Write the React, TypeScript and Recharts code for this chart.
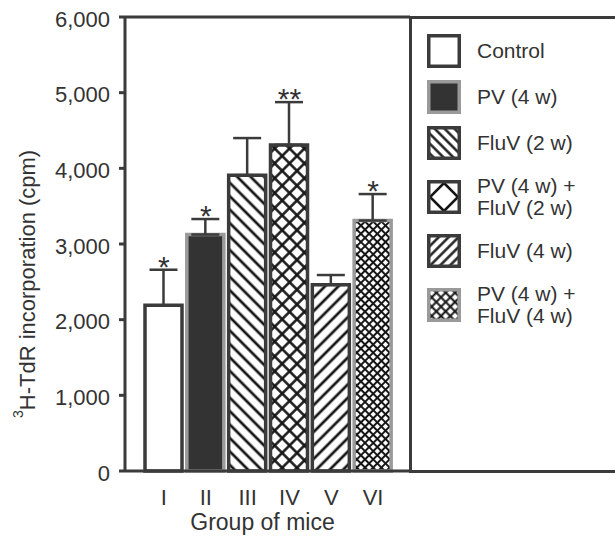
import { ComposedChart, Bar, Line, XAxis, YAxis, ErrorBar, Cell, LabelList, ReferenceLine } from "recharts"

const groups = ["I", "II", "III", "IV", "V", "VI"]
const treatments = [
  ["Control"],
  ["PV (4 w)"],
  ["FluV (2 w)"],
  ["PV (4 w) +", "FluV (2 w)"],
  ["FluV (4 w)"],
  ["PV (4 w) +", "FluV (4 w)"],
]
const means = [2190, 3125, 3910, 4310, 2460, 3310]
const errUp = [470, 205, 490, 565, 130, 350]
const marks = ["*", "*", "", "**", "", "*"]
const yTicks = [0, 1000, 2000, 3000, 4000, 5000, 6000]

const data = groups.map((g, i) => ({
  group: g,
  mean: means[i],
  err: [0, errUp[i]],
  top: means[i] + errUp[i],
  mark: marks[i],
}))

const FONT = "'Liberation Sans', Arial, sans-serif"
const INK = "#3b3b3b"
const GREY = "#9a9a9a"
const TEXT = "#333"
const HATCH = "#151515"

const barFill = ["#fff", "#333", "url(#hatchBack)", "url(#diamond)", "url(#hatchFwd)", "url(#fineCross)"]
const barStroke = [INK, GREY, INK, INK, INK, GREY]
const swatchFill = ["#fff", "#333", "url(#lgBack)", "url(#lgDiamond)", "url(#lgFwd)", "url(#lgCross)"]

function Patterns() {
  return (
    <svg width={0} height={0} style={{ position: "absolute" }}>
      <defs>
        <pattern id="hatchBack" width={9.5} height={9.5} patternUnits="userSpaceOnUse" patternTransform="rotate(-45)">
          <rect width={9.5} height={9.5} fill="#fff" />
          <line x1={4.75} y1={0} x2={4.75} y2={9.5} stroke={HATCH} strokeWidth={2.7} />
        </pattern>
        <pattern id="hatchFwd" width={9.5} height={9.5} patternUnits="userSpaceOnUse" patternTransform="rotate(45)">
          <rect width={9.5} height={9.5} fill="#fff" />
          <line x1={4.75} y1={0} x2={4.75} y2={9.5} stroke={HATCH} strokeWidth={2.7} />
        </pattern>
        <pattern id="diamond" width={10.5} height={10.5} patternUnits="userSpaceOnUse" patternTransform="rotate(45)">
          <rect width={10.5} height={10.5} fill="#fff" />
          <line x1={5.25} y1={0} x2={5.25} y2={10.5} stroke={HATCH} strokeWidth={2.5} />
          <line x1={0} y1={5.25} x2={10.5} y2={5.25} stroke={HATCH} strokeWidth={2.5} />
        </pattern>
        <pattern id="fineCross" width={5.8} height={5.8} patternUnits="userSpaceOnUse" patternTransform="rotate(45)">
          <rect width={5.8} height={5.8} fill="#fff" />
          <line x1={2.9} y1={0} x2={2.9} y2={5.8} stroke={HATCH} strokeWidth={2} />
          <line x1={0} y1={2.9} x2={5.8} y2={2.9} stroke={HATCH} strokeWidth={2} />
        </pattern>
        <pattern id="lgBack" width={7} height={7} patternUnits="userSpaceOnUse" patternTransform="rotate(-45)">
          <rect width={7} height={7} fill="#fff" />
          <line x1={3.5} y1={0} x2={3.5} y2={7} stroke={HATCH} strokeWidth={2.4} />
        </pattern>
        <pattern id="lgFwd" width={7} height={7} patternUnits="userSpaceOnUse" patternTransform="rotate(45)">
          <rect width={7} height={7} fill="#fff" />
          <line x1={3.5} y1={0} x2={3.5} y2={7} stroke={HATCH} strokeWidth={2.4} />
        </pattern>
        <pattern id="lgDiamond" x={3} y={3} width={28} height={28} patternUnits="userSpaceOnUse">
          <rect width={28} height={28} fill="#fff" />
          <path d="M14,0 L28,14 L14,28 L0,14 Z" fill="none" stroke={HATCH} strokeWidth={2.6} />
        </pattern>
        <pattern id="lgCross" width={6.6} height={6.6} patternUnits="userSpaceOnUse" patternTransform="rotate(45)">
          <rect width={6.6} height={6.6} fill="#fff" />
          <line x1={3.3} y1={0} x2={3.3} y2={6.6} stroke={HATCH} strokeWidth={2} />
          <line x1={0} y1={3.3} x2={6.6} y2={3.3} stroke={HATCH} strokeWidth={2} />
        </pattern>
      </defs>
    </svg>
  )
}

function Star(props: any) {
  const { x, y, value } = props
  if (!value) return null
  return (
    <text x={x} y={y + 7} textAnchor="middle" fontSize={30} fill={TEXT} fontFamily={FONT}>
      {value}
    </text>
  )
}

function YTitle() {
  return (
    <text x={35} y={418} transform="rotate(-90 35 418)" fill={TEXT} fontFamily={FONT} fontSize={22}>
      <tspan fontSize={14} dy={-12}>3</tspan>
      <tspan dy={12}>H-TdR incorporation (cpm)</tspan>
    </text>
  )
}

// legend box: its left border is the right edge of the plot frame
function GroupLegend() {
  return (
    <div
      style={{
        position: "absolute",
        left: 408.5,
        top: 15.5,
        width: 206.5,
        height: 457,
        boxSizing: "border-box",
        borderTop: `3px solid ${INK}`,
        borderBottom: `3px solid ${INK}`,
        borderLeft: `3px solid ${INK}`,
        paddingTop: 15.5,
        paddingLeft: 15.5,
        fontFamily: FONT,
        fontSize: 21,
        color: TEXT,
      }}
    >
      {treatments.map((lines, i) => (
        <div
          key={i}
          style={{ display: "flex", alignItems: "center", height: lines.length > 1 ? 50 : 34, marginBottom: 12 }}
        >
          <svg width={34} height={34} style={{ flex: "none" }}>
            <rect x={1.75} y={1.75} width={30.5} height={30.5} fill={swatchFill[i]} stroke={barStroke[i]} strokeWidth={3.5} />
          </svg>
          <div style={{ marginLeft: 16, lineHeight: "22px" }}>
            {lines.map((l) => (
              <div key={l}>{l}</div>
            ))}
          </div>
        </div>
      ))}
    </div>
  )
}

export default function App() {
  return (
    <div style={{ position: "absolute", left: 0, top: 0, width: 615, height: 537, background: "#fff" }}>
      <Patterns />
      <ComposedChart width={615} height={537} data={data} margin={{ top: 17, right: 205, bottom: 0, left: 0 }}>
        <XAxis
          dataKey="group"
          height={66}
          interval={0}
          padding={{ left: 18, right: 16 }}
          tickLine={false}
          tickSize={0}
          tickMargin={18}
          axisLine={{ stroke: INK, strokeWidth: 3 }}
          tick={{ fill: TEXT, fontSize: 22, fontFamily: FONT }}
          label={{ value: "Group of mice", position: "insideBottom", offset: 7, fill: TEXT, fontSize: 23, fontFamily: FONT, dx: -5 }}
        />
        <YAxis
          domain={[0, 6000]}
          ticks={yTicks}
          width={125}
          tickSize={6}
          tickMargin={9}
          stroke={INK}
          axisLine={{ stroke: INK, strokeWidth: 3 }}
          tickLine={{ stroke: INK, strokeWidth: 3 }}
          tick={{ fill: TEXT, fontSize: 22, fontFamily: FONT, dy: 2 }}
          tickFormatter={(v: number) => v.toLocaleString("en-US")}
          label={{ content: () => <YTitle /> }}
        />
        <ReferenceLine y={6000} stroke={INK} strokeWidth={3} />
        <Bar dataKey="mean" barSize={37} strokeWidth={3.5} isAnimationActive={false}>
          {data.map((d, i) => (
            <Cell key={d.group} fill={barFill[i]} stroke={barStroke[i]} />
          ))}
          <ErrorBar dataKey="err" direction="y" width={14} stroke={INK} strokeWidth={2.5} />
        </Bar>
        <Line dataKey="top" stroke="none" dot={false} activeDot={false} legendType="none" isAnimationActive={false}>
          <LabelList dataKey="mark" content={Star} />
        </Line>
      </ComposedChart>
      <GroupLegend />
    </div>
  )
}
